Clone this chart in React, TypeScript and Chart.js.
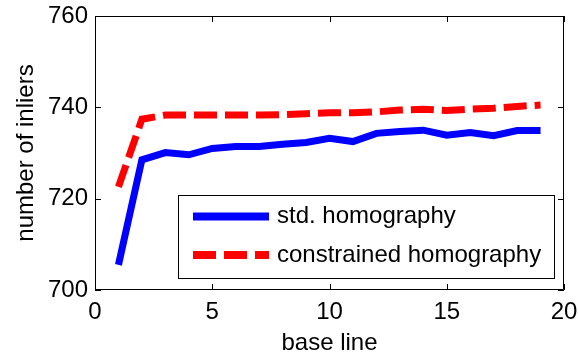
import React, { useEffect, useRef } from "react";
import { Chart, registerables } from "chart.js";

Chart.register(...registerables);

const baseLine = [1, 2, 3, 4, 5, 6, 7, 8, 9, 10, 11, 12, 13, 14, 15, 16, 17, 18, 19];
const stdHomography = [705.5, 728.5, 730.1, 729.6, 731.0, 731.4, 731.4, 731.9, 732.3, 733.2, 732.5, 734.3, 734.7, 735.0, 733.9, 734.5, 733.8, 734.9, 734.9];
const constrainedHomography = [722.6, 737.4, 738.3, 738.3, 738.3, 738.3, 738.3, 738.4, 738.6, 738.8, 738.8, 739.0, 739.4, 739.6, 739.3, 739.6, 739.8, 740.2, 740.5];
const seriesLabels = ["std. homography", "constrained homography"];
const xTicks = [0, 5, 10, 15, 20];
const yTicks = [700, 720, 740, 760];

const FONT = "'Liberation Sans', Arial, sans-serif";
const FONT_SIZE = 24;

const framePlugin = {
  id: "matlabFrame",
  afterDatasetsDraw(chart: any) {
    const { ctx, chartArea, scales } = chart;
    const { left, right, top, bottom } = chartArea;
    ctx.save();
    ctx.strokeStyle = "#000";
    ctx.lineWidth = 1;
    ctx.beginPath();
    ctx.rect(Math.round(left) + 0.5, Math.round(top) + 0.5, Math.round(right - left) - 1, Math.round(bottom - top) - 1);
    ctx.stroke();
    const tl = 6;
    ctx.beginPath();
    for (const v of xTicks) {
      const x = Math.round(scales.x.getPixelForValue(v)) + 0.5;
      ctx.moveTo(x, bottom);
      ctx.lineTo(x, bottom - tl);
      ctx.moveTo(x, top);
      ctx.lineTo(x, top + tl);
    }
    for (const v of yTicks) {
      const y = Math.round(scales.y.getPixelForValue(v)) + 0.5;
      ctx.moveTo(left, y);
      ctx.lineTo(left + tl, y);
      ctx.moveTo(right, y);
      ctx.lineTo(right - tl, y);
    }
    ctx.stroke();
    ctx.restore();
  },
};

const legendPlugin = {
  id: "boxLegend",
  afterDraw(chart: any) {
    const { ctx, chartArea } = chart;
    const w = 376;
    const h = 83;
    const l = Math.round(chartArea.right - 10 - w);
    const t = Math.round(chartArea.bottom - 12 - h);
    ctx.save();
    ctx.fillStyle = "#fff";
    ctx.fillRect(l, t, w, h);
    ctx.strokeStyle = "#000";
    ctx.lineWidth = 1;
    ctx.strokeRect(l + 0.5, t + 0.5, w, h);
    chart.data.datasets.forEach((ds: any, i: number) => {
      const y = t + 21.5 + i * 38.5;
      ctx.strokeStyle = ds.borderColor;
      ctx.lineWidth = 8;
      ctx.setLineDash(ds.borderDash || []);
      ctx.beginPath();
      ctx.moveTo(l + 15, y);
      ctx.lineTo(l + 91, y);
      ctx.stroke();
      ctx.setLineDash([]);
      ctx.fillStyle = "#000";
      ctx.font = `${FONT_SIZE}px ${FONT}`;
      ctx.textBaseline = "middle";
      ctx.textAlign = "left";
      ctx.fillText(ds.label, l + 99, y);
    });
    ctx.restore();
  },
};

export default function App() {
  const ref = useRef<HTMLCanvasElement | null>(null);

  useEffect(() => {
    if (!ref.current) return;
    const chart = new Chart(ref.current, {
      type: "line",
      data: {
        datasets: [
          {
            label: seriesLabels[0],
            data: baseLine.map((x, i) => ({ x, y: stdHomography[i] })),
            borderColor: "#0000ff",
            borderWidth: 7,
            pointRadius: 0,
            tension: 0,
            fill: false,
          },
          {
            label: seriesLabels[1],
            data: baseLine.map((x, i) => ({ x, y: constrainedHomography[i] })),
            borderColor: "#ff0000",
            borderWidth: 7,
            borderDash: [23, 8],
            pointRadius: 0,
            tension: 0,
            fill: false,
          },
        ],
      },
      options: {
        responsive: false,
        animation: false,
        events: [],
        layout: { padding: { top: 16, right: 14, left: 0, bottom: 0 } },
        plugins: { legend: { display: false }, tooltip: { enabled: false } },
        scales: {
          x: {
            type: "linear",
            min: 0,
            max: 20,
            afterBuildTicks: (s: any) => {
              s.ticks = xTicks.map((v) => ({ value: v }));
            },
            afterFit: (s: any) => {
              s.height = 70;
              s.paddingLeft = 0;
              s.paddingRight = 0;
            },
            grid: { display: false, drawTicks: false },
            border: { display: false },
            ticks: { color: "#000", font: { family: FONT, size: FONT_SIZE }, padding: 8, maxRotation: 0 },
            title: {
              display: true,
              text: "base line",
              color: "#000",
              font: { family: FONT, size: FONT_SIZE },
              padding: { top: 0, bottom: 2 },
            },
          },
          y: {
            type: "linear",
            min: 700,
            max: 760,
            afterBuildTicks: (s: any) => {
              s.ticks = yTicks.map((v) => ({ value: v }));
            },
            afterFit: (s: any) => {
              s.width = 95;
              s.paddingTop = 0;
              s.paddingBottom = 0;
            },
            grid: { display: false, drawTicks: false },
            border: { display: false },
            ticks: { color: "#000", font: { family: FONT, size: FONT_SIZE }, padding: 7 },
            title: {
              display: true,
              text: "number of inliers",
              color: "#000",
              font: { family: FONT, size: FONT_SIZE },
              padding: { top: 12, bottom: 0 },
            },
          },
        },
      },
      plugins: [framePlugin, legendPlugin],
    });
    return () => chart.destroy();
  }, []);

  return (
    <div style={{ position: "absolute", left: 0, top: 0, width: 578, height: 360, background: "#fff" }}>
      <canvas ref={ref} width={578} height={360} />
    </div>
  );
}
